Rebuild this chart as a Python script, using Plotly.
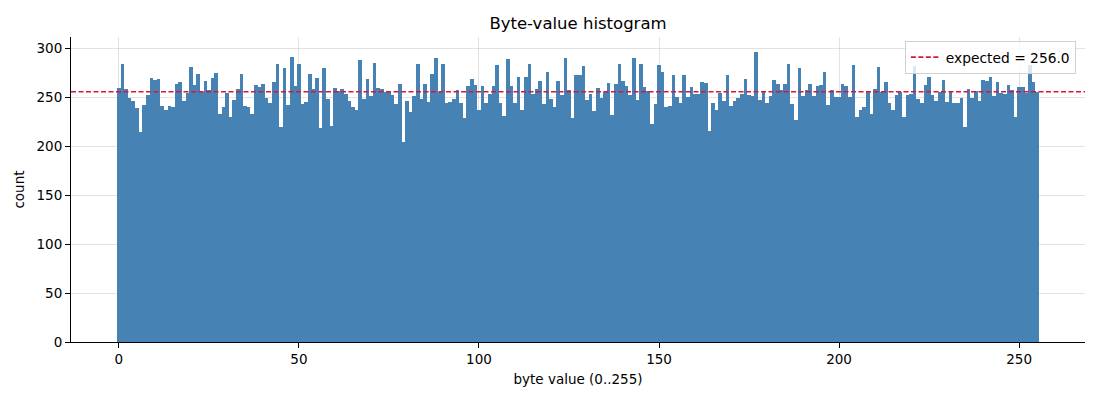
import plotly.graph_objects as go

# counts per byte value
byte_values = list(range(256))
counts = [
    260, 284, 259, 250, 247, 239, 215, 242, 253, 270, 268, 269, 241, 237, 241, 240,
    264, 266, 247, 255, 281, 263, 274, 256, 267, 258, 270, 275, 233, 240, 255, 230,
    248, 259, 274, 241, 240, 233, 263, 261, 264, 250, 244, 266, 284, 220, 280, 242,
    292, 262, 284, 243, 246, 274, 259, 270, 219, 280, 249, 221, 260, 257, 259, 254,
    247, 240, 237, 288, 249, 269, 252, 285, 260, 259, 256, 256, 253, 243, 264, 205,
    247, 235, 252, 284, 249, 264, 246, 274, 291, 256, 284, 244, 246, 249, 258, 244,
    229, 262, 269, 263, 237, 262, 245, 254, 262, 283, 244, 231, 289, 262, 245, 271,
    237, 271, 284, 254, 259, 267, 243, 276, 249, 240, 267, 253, 291, 258, 229, 273,
    273, 282, 248, 254, 236, 260, 250, 256, 265, 232, 264, 284, 267, 262, 253, 291,
    248, 284, 261, 257, 223, 243, 283, 276, 240, 241, 273, 251, 245, 273, 251, 261,
    254, 254, 266, 265, 216, 245, 237, 255, 247, 273, 241, 247, 250, 254, 269, 253,
    252, 297, 248, 257, 245, 252, 268, 264, 258, 264, 284, 243, 227, 280, 252, 258,
    264, 252, 262, 263, 276, 242, 258, 251, 251, 264, 262, 251, 283, 230, 237, 240,
    256, 233, 259, 281, 256, 266, 245, 237, 253, 256, 230, 253, 254, 282, 249, 245,
    263, 271, 253, 247, 256, 268, 246, 257, 245, 245, 250, 220, 259, 250, 257, 247,
    268, 267, 271, 252, 266, 255, 254, 263, 258, 230, 261, 261, 255, 283, 266, 256,
]
expected = 256.0

FONT = "DejaVu Sans"
GRID = "rgba(176,176,176,0.35)"

fig = go.Figure()
fig.add_trace(go.Bar(x=byte_values, y=counts, width=1,
                     marker=dict(color="#4682b4", line=dict(width=0)),
                     showlegend=False, hoverinfo="x+y"))

fig.add_hline(y=expected, line=dict(color="crimson", width=1.6, dash="5px,2.5px"),
              showlegend=True, name=f"expected = {expected:.1f}", layer="above")

axis_common = dict(showline=True, linecolor="black", linewidth=1,
                   ticks="outside", ticklen=5, tickcolor="black",
                   showgrid=True, gridcolor=GRID, gridwidth=1,
                   zeroline=False, mirror=False, layer="above traces",
                   automargin=False,
                   tickfont=dict(family=FONT, size=13.5, color="black"))

fig.update_xaxes(range=[-13.3, 268.3], tickvals=[0, 50, 100, 150, 200, 250],
                 title=dict(text="byte value (0..255)", standoff=8,
                            font=dict(family=FONT, size=13.5, color="black")),
                 **axis_common)
fig.update_yaxes(range=[0, 312], tickvals=[0, 50, 100, 150, 200, 250, 300],
                 title=dict(text="count", standoff=8,
                            font=dict(family=FONT, size=13.5, color="black")),
                 **axis_common)

fig.update_layout(
    width=1100, height=400,
    margin=dict(l=71, r=15, t=37, b=58),
    plot_bgcolor="white", paper_bgcolor="white",
    bargap=0,
    font=dict(family=FONT, size=13.5, color="black"),
    title=dict(text="Byte-value histogram", x=0.5, xref="paper",
               y=1 - 23 / 400, yref="container", yanchor="middle",
               font=dict(family=FONT, size=16.5, color="black")),
    legend=dict(x=0.991, y=0.988, xanchor="right", yanchor="top",
                bgcolor="rgba(255,255,255,0.8)", bordercolor="#d0d0d0",
                borderwidth=1, font=dict(family=FONT, size=13.8),
                itemwidth=30),
)

# drop the default page margin so the figure sits at the window's corner
fig.write_html("out.html", config={"displayModeBar": False},
               post_script="document.body.style.margin='0';")
